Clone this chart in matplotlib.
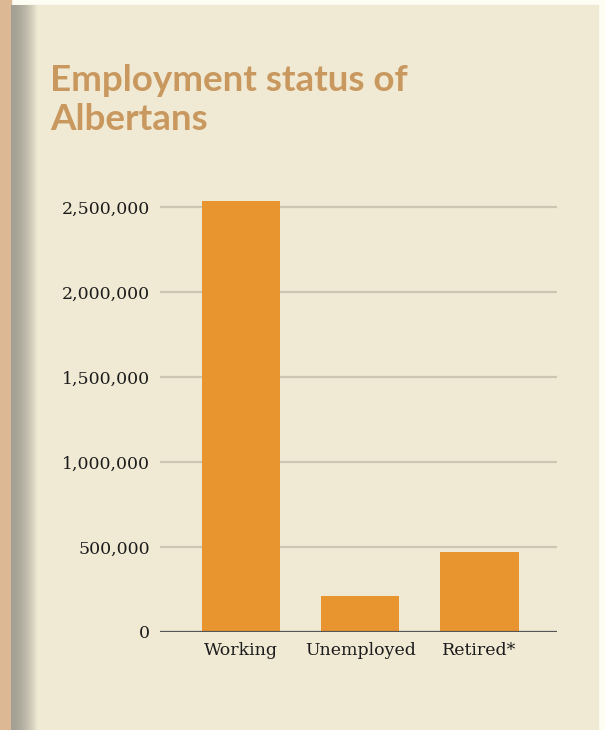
import numpy as np
import matplotlib.pyplot as plt
from matplotlib.patches import Rectangle

# data
categories = ["Working", "Unemployed", "Retired*"]
values = [2535000, 212000, 470000]
y_ticks = [0, 500000, 1000000, 1500000, 2000000, 2500000]

W, H = 605, 730
fig = plt.figure(figsize=(W / 100, H / 100), dpi=100)
fig.patch.set_facecolor("#fdfdf3")

# panel background + left tan stripe
fig.add_artist(Rectangle((11 / W, 0), (598 - 11) / W, (H - 5) / H,
                         transform=fig.transFigure, color="#f0ead5", zorder=-10))
fig.add_artist(Rectangle((0, 0), 11 / W, 1, transform=fig.transFigure,
                         color="#dcb895", zorder=-9))

# soft shadow next to the stripe
sh = fig.add_axes([11 / W, 0, 27 / W, (H - 5) / H])
grad = np.linspace(0, 1, 64) ** 1.8
c0 = np.array([0.64, 0.63, 0.58])
c1 = np.array([0xf0, 0xea, 0xd5]) / 255
img = c0[None, :] * (1 - grad[:, None]) + c1[None, :] * grad[:, None]
sh.imshow(img[None, :, :], aspect="auto", extent=[0, 1, 0, 1])
sh.set_axis_off()

# title
fig.text(50 / W, 1 - 130 / H, "Employment status of\nAlbertans", color="#c9985f",
         fontsize=26.5, fontweight="bold", family="Lato", va="baseline",
         linespacing=1.24)

# chart
ax = fig.add_axes([160 / W, 98 / H, (557 - 160) / W, (632 - 190) / H])
ax.set_facecolor("none")
x = np.arange(len(categories))
ax.bar(x, values, width=0.655, color="#e8952f", zorder=3)
ax.set_xlim(-0.68, 2.65)
ax.set_ylim(0, 2600000)

for v in y_ticks[1:]:
    ax.axhline(v, color="#cdc6b2", lw=1.6, zorder=1)
ax.axhline(0, color="#555555", lw=1.6, zorder=4)

for s in ax.spines.values():
    s.set_visible(False)

ax.set_yticks(y_ticks)
ax.set_yticklabels([f"{v:,}" for v in y_ticks])
ax.set_xticks(x)
ax.set_xticklabels(categories)
ax.tick_params(axis="both", length=0, labelsize=12.5, labelcolor="#1c1c1c")
ax.tick_params(axis="y", pad=7)
ax.tick_params(axis="x", pad=7)
for lab in ax.get_xticklabels() + ax.get_yticklabels():
    lab.set_family("DejaVu Serif")

fig.savefig("out.png", dpi=100, facecolor=fig.get_facecolor())
